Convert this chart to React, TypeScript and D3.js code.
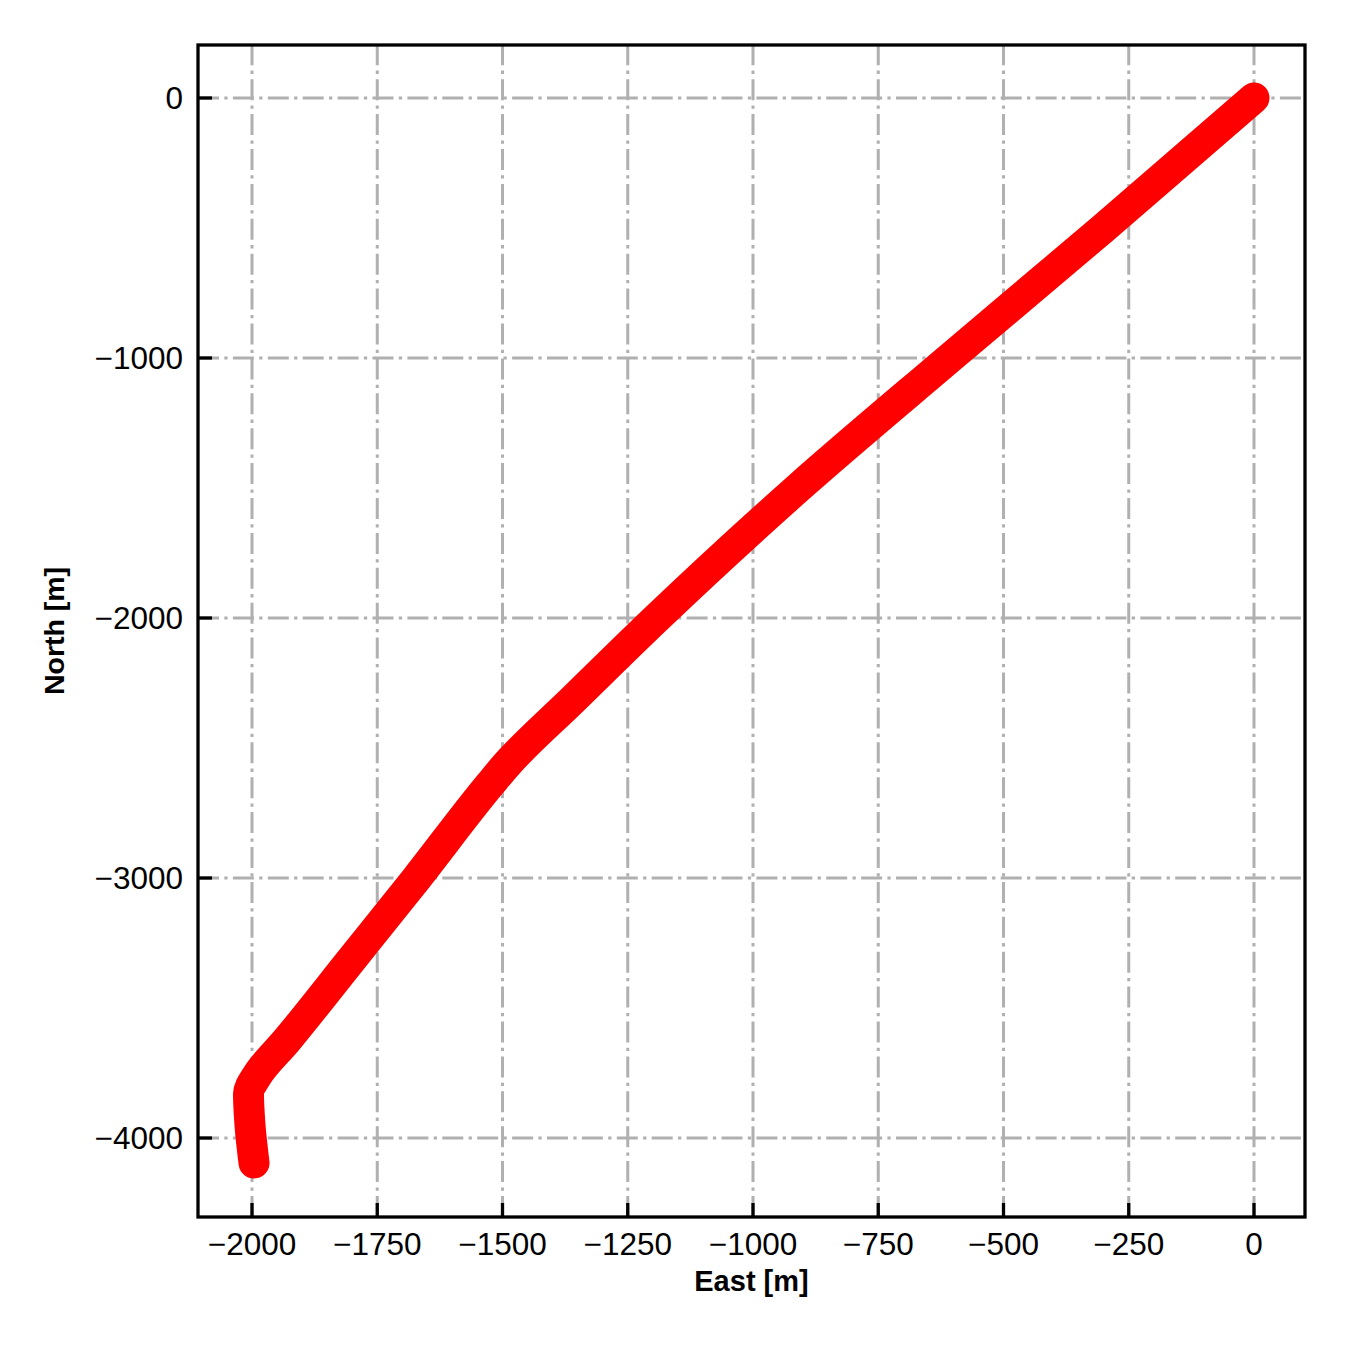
import React from "react";
import * as d3 from "d3";

// Trajectory vertices (metres)
const eastValues = [0, -300, -607, -910, -1192, -1360, -1490, -1525, -1671, -1804, -1930, -1990, -2007, -2004, -1996];
const northValues = [0, -500, -1000, -1500, -2000, -2315, -2560, -2640, -3000, -3320, -3623, -3760, -3830, -3950, -4096];

const xTicks = [-2000, -1750, -1500, -1250, -1000, -750, -500, -250, 0];
const yTicks = [0, -1000, -2000, -3000, -4000];

const xLabel = "East [m]";
const yLabel = "North [m]";

const W = 1350;
const H = 1350;
const L = 198, R = 1305, T = 45, B = 1217;

const fmt = (d: number) => (d < 0 ? "\u2212" + Math.abs(d) : String(d));

export default function App() {
  const x = d3.scaleLinear().domain([-2107.8, 101.8]).range([L, R]);
  const y = d3.scaleLinear().domain([-4303.8, 203.8]).range([B, T]);
  const pts = eastValues.map((e, i) => [e, northValues[i]] as [number, number]);
  const line = d3
    .line<[number, number]>()
    .x((d) => x(d[0]))
    .y((d) => y(d[1]))
    .curve(d3.curveMonotoneY);

  const gridStyle = {
    stroke: "#b0b0b0",
    strokeWidth: 3,
    strokeDasharray: "21,5.3,3.3,5.3",
    fill: "none",
  };
  const font = "'Liberation Sans', Arial, Helvetica, sans-serif";
  const tickLen = 14;
  const sw = 3.3;

  return (
    <svg
      width={W}
      height={H}
      style={{ position: "absolute", left: 0, top: 0, background: "#fff" }}
      fontFamily={font}
    >
      <rect x={0} y={0} width={W} height={H} fill="#fff" />
      {/* grid */}
      {xTicks.map((t) => (
        <line key={"gx" + t} x1={x(t)} x2={x(t)} y1={B} y2={T} style={gridStyle} />
      ))}
      {yTicks.map((t) => (
        <line key={"gy" + t} x1={L} x2={R} y1={y(t)} y2={y(t)} style={gridStyle} />
      ))}
      {/* data */}
      <path
        d={line(pts) || ""}
        fill="none"
        stroke="#ff0000"
        strokeWidth={31}
        strokeLinecap="round"
        strokeLinejoin="round"
      />
      {/* ticks */}
      {xTicks.map((t) => (
        <line key={"tx" + t} x1={x(t)} x2={x(t)} y1={B} y2={B - tickLen} stroke="#000" strokeWidth={sw} />
      ))}
      {yTicks.map((t) => (
        <line key={"ty" + t} x1={L} x2={L + tickLen} y1={y(t)} y2={y(t)} stroke="#000" strokeWidth={sw} />
      ))}
      {/* spines */}
      <rect x={L} y={T} width={R - L} height={B - T} fill="none" stroke="#000" strokeWidth={sw} />
      {/* tick labels */}
      {xTicks.map((t) => (
        <text key={"lx" + t} x={x(t)} y={1255} textAnchor="middle" fontSize={31.5} fill="#000">
          {fmt(t)}
        </text>
      ))}
      {yTicks.map((t) => (
        <text key={"ly" + t} x={183} y={y(t) + 11} textAnchor="end" fontSize={31.5} fill="#000">
          {fmt(t)}
        </text>
      ))}
      {/* axis labels */}
      <text x={(L + R) / 2} y={1291} textAnchor="middle" fontSize={29} fontWeight="bold" fill="#000">
        {xLabel}
      </text>
      <text
        transform={`translate(64,${(T + B) / 2}) rotate(-90)`}
        textAnchor="middle"
        fontSize={28.5}
        fontWeight="bold"
        fill="#000"
      >
        {yLabel}
      </text>
    </svg>
  );
}
